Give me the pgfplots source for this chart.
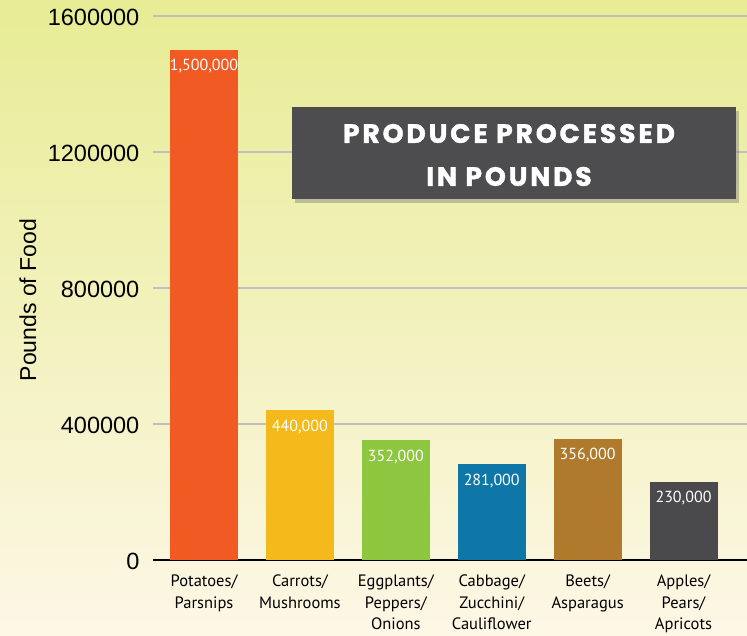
\documentclass[border=0pt]{standalone}
\usepackage{pgfplots}
\pgfplotsset{compat=1.18}
\usepackage{pgfplotstable}
\usepackage{fontspec}
\setmainfont{Liberation Sans}
\newfontfamily\barfont{PT Sans}
\newfontfamily\titlefont{Poppins}[LetterSpace=11, BoldFeatures={FakeBold=1.5}]
\usetikzlibrary{shadows}
\definecolor{cOrange}{HTML}{F15A22}
\definecolor{cYellow}{HTML}{F4B91A}
\definecolor{cGreen}{HTML}{8DC63F}
\definecolor{cBlue}{HTML}{0E77A8}
\definecolor{cBrown}{HTML}{B07A2C}
\definecolor{cDark}{HTML}{4A4A4C}
\definecolor{bgTop}{RGB}{231,236,148}
\definecolor{bgBot}{RGB}{253,247,230}
\definecolor{boxGray}{HTML}{4D4D4F}
\pgfplotstableread{
x y label
0 1500000 1,500,000
}\dA
\pgfplotstableread{
x y label
1 440000 440,000
}\dB
\pgfplotstableread{
x y label
2 352000 352,000
}\dC
\pgfplotstableread{
x y label
3 281000 281,000
}\dD
\pgfplotstableread{
x y label
4 356000 356,000
}\dE
\pgfplotstableread{
x y label
5 230000 230,000
}\dF
\begin{document}
\begin{tikzpicture}
\useasboundingbox (0,0) rectangle (747pt,636pt);
\fill[top color=bgTop, bottom color=bgBot] (0,0) rectangle (747pt,636pt);
\begin{axis}[
  at={(153pt,76pt)}, anchor=south west,
  scale only axis, width=594pt, height=544pt,
  xmin=-0.532, xmax=5.662, ymin=0, ymax=1600000,
  scaled y ticks=false,
  axis x line=bottom, axis y line=left,
  x axis line style={black, line width=2pt, -},
  y axis line style={draw=none},
  tick style={draw=none},
  ytick={0,400000,800000,1200000,1600000},
  yticklabels={0,400000,800000,1200000,1600000},
  yticklabel style={font=\fontsize{23.5}{26}\selectfont, xshift=-8pt, yshift=-1pt},
  ymajorgrids, major grid style={draw=black!25, line width=2pt},
  xtick={0,1,2,3,4,5},
  xticklabels={Potatoes/\\Parsnips, Carrots/\\Mushrooms, Eggplants/\\Peppers/\\Onions, Cabbage/\\Zucchini/\\Cauliflower, Beets/\\Asparagus, Apples/\\Pears/\\Apricots},
  xticklabel style={align=center, font=\barfont\fontsize{16.5}{21.5}\selectfont, yshift=-7pt},
  ylabel={Pounds of Food},
  every axis y label/.style={at={(axis description cs:0,0.478)}, xshift=-125pt, rotate=90, anchor=center, font=\fontsize{23}{26}\selectfont},
  ybar, bar width=68pt, bar shift=0pt,
  point meta=explicit symbolic,
  nodes near coords,
  every node near coord/.append style={anchor=north, text=white, font=\barfont\fontsize{16}{16}\selectfont, yshift=-6pt},
  clip=false,
]
\addplot[fill=cOrange, draw=none] table[x=x, y=y, meta=label] {\dA};
\addplot[fill=cYellow, draw=none] table[x=x, y=y, meta=label] {\dB};
\addplot[fill=cGreen, draw=none] table[x=x, y=y, meta=label] {\dC};
\addplot[fill=cBlue, draw=none] table[x=x, y=y, meta=label] {\dD};
\addplot[fill=cBrown, draw=none] table[x=x, y=y, meta=label] {\dE};
\addplot[fill=cDark, draw=none] table[x=x, y=y, meta=label] {\dF};
\end{axis}
\fill[boxGray, drop shadow={shadow xshift=3pt, shadow yshift=-4pt, opacity=0.45}] (292pt,437pt) rectangle (736pt,529pt);
\node[text=white, align=center, font=\titlefont\bfseries\fontsize{26.5}{43}\selectfont] at (509pt,481pt) {PRODUCE PROCESSED\\IN POUNDS};
\end{tikzpicture}
\end{document}
